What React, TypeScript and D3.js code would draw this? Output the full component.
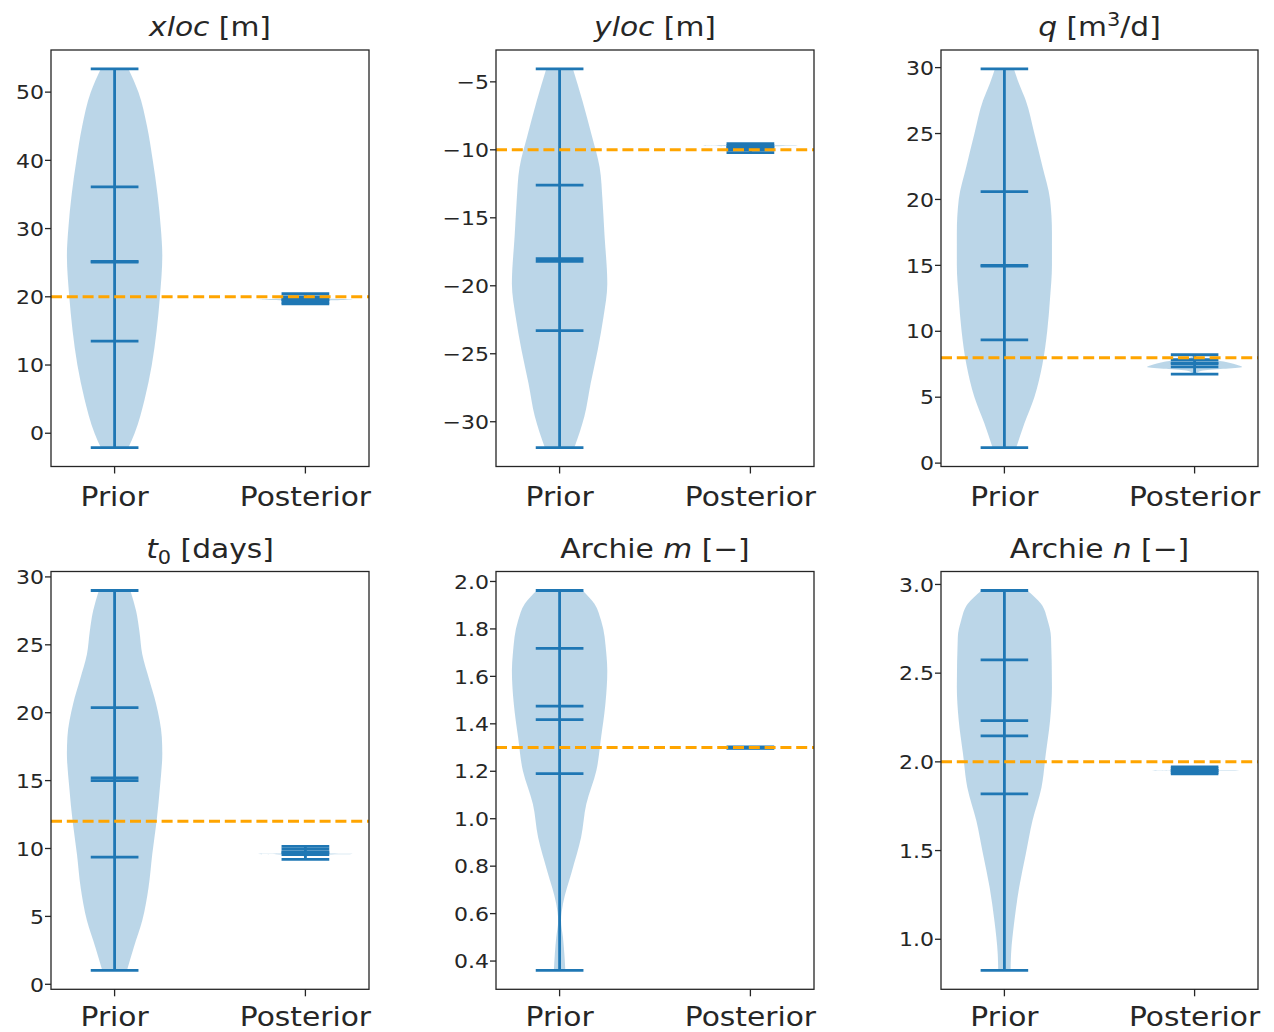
import React from 'react';
import * as d3 from 'd3';

// ---------------- DATA ----------------
const categories = ['Prior', 'Posterior'];
const trueValues = [20, -10, 8, 12, 1.3, 2.0];

const yTickValues = [
  [0, 10, 20, 30, 40, 50],
  [-30, -25, -20, -15, -10, -5],
  [0, 5, 10, 15, 20, 25, 30],
  [0, 5, 10, 15, 20, 25, 30],
  [0.4, 0.6, 0.8, 1.0, 1.2, 1.4, 1.6, 1.8, 2.0],
  [1.0, 1.5, 2.0, 2.5, 3.0],
];
const yTickDecimals = [0, 0, 0, 0, 1, 1];

// Prior summary statistics
const priorMin = [-2.1, -31.9, 1.18, 1.03, 0.361, 0.825];
const priorQ25 = [13.5, -23.3, 9.35, 9.36, 1.19, 1.82];
const priorMedian = [25.1, -18.0, 15.0, 15.0, 1.475, 2.232];
const priorMean = [25.2, -18.2, 14.95, 15.2, 1.418, 2.147];
const priorQ75 = [36.1, -12.6, 20.6, 20.37, 1.718, 2.575];
const priorMax = [53.4, -4.05, 29.9, 29.0, 1.962, 2.966];

// Prior density profiles (value, relative density)
const priorKdeValues = [
  [53.4, 50, 45, 40, 35, 30, 26, 20, 15, 10, 5, 0, -2.1],
  [-4.05, -6.4, -8.9, -11.3, -13.75, -16.2, -19.85, -22.3, -24.7, -27.2, -29.6, -31.9],
  [29.9, 28.75, 27.5, 25, 22.5, 20, 17.5, 15, 12.5, 10, 7.5, 5, 3, 1.18],
  [29.0, 27.5, 26.0, 24.3, 22.5, 20.65, 18.2, 17.0, 14.5, 12.0, 9.6, 7.1, 4.7, 2.7, 1.03],
  [1.962, 1.906, 1.835, 1.695, 1.624, 1.484, 1.343, 1.202, 1.062, 0.921, 0.78, 0.64, 0.57, 0.5, 0.43, 0.361],
  [2.966, 2.891, 2.797, 2.703, 2.42, 2.232, 2.045, 1.856, 1.668, 1.48, 1.292, 1.104, 0.916, 0.825],
];
const priorKdeDensity = [
  [0.29, 0.5, 0.68, 0.8, 0.9, 0.97, 1.0, 0.95, 0.88, 0.78, 0.63, 0.42, 0.29],
  [0.28, 0.48, 0.67, 0.84, 0.9, 0.94, 1.0, 0.92, 0.8, 0.65, 0.52, 0.31],
  [0.2, 0.31, 0.45, 0.63, 0.8, 0.96, 1.0, 1.0, 0.96, 0.9, 0.8, 0.63, 0.42, 0.25],
  [0.33, 0.45, 0.52, 0.58, 0.72, 0.87, 0.99, 1.0, 0.95, 0.88, 0.79, 0.71, 0.58, 0.4, 0.26],
  [0.48, 0.73, 0.87, 0.98, 1.0, 0.96, 0.87, 0.77, 0.56, 0.45, 0.26, 0.07, 0.03, 0.07, 0.1, 0.12],
  [0.48, 0.77, 0.91, 0.98, 1.0, 0.96, 0.87, 0.78, 0.59, 0.45, 0.31, 0.21, 0.14, 0.13],
];

// Posterior summary statistics
const postMin = [18.95, -10.2, 6.75, 9.2, 1.297, 1.932];
const postQ25 = [19.2, -10.0, 7.3, 9.55, 1.299, 1.94];
const postMedian = [19.6, -9.8, 7.6, 9.75, 1.3, 1.952];
const postMean = [19.55, -9.85, 7.55, 9.7, 1.3, 1.95];
const postQ75 = [20.0, -9.7, 7.85, 9.95, 1.301, 1.962];
const postMax = [20.45, -9.55, 8.22, 10.15, 1.303, 1.972];

// Posterior density profiles
const postKdeValues = [
  [20.45, 20.0, 19.8, 19.6, 19.4, 19.2, 18.95],
  [-9.55, -9.65, -9.7, -9.75, -9.9, -10.05, -10.2],
  [8.22, 8.0, 7.8, 7.6, 7.45, 7.3, 7.15, 7.0, 6.75],
  [10.15, 9.8, 9.65, 9.6, 9.55, 9.4, 9.2],
  [1.3005, 1.3, 1.2995],
  [1.972, 1.96, 1.953, 1.95, 1.947, 1.94, 1.932],
];
const postKdeDensity = [
  [0.01, 0.05, 0.25, 1.0, 0.25, 0.05, 0.01],
  [0.02, 0.3, 1.0, 0.3, 0.08, 0.03, 0.01],
  [0.02, 0.1, 0.45, 0.75, 0.9, 1.0, 0.6, 0.15, 0.02],
  [0.01, 0.03, 0.2, 1.0, 0.2, 0.03, 0.01],
  [0.0, 1.0, 0.0],
  [0.01, 0.05, 0.3, 1.0, 0.3, 0.05, 0.01],
];

type Seg = { text: string; italic?: boolean; sup?: boolean; sub?: boolean };
const titles: Seg[][] = [
  [{ text: 'xloc', italic: true }, { text: ' [m]' }],
  [{ text: 'yloc', italic: true }, { text: ' [m]' }],
  [{ text: 'q', italic: true }, { text: ' [m' }, { text: '3', sup: true }, { text: '/d]' }],
  [{ text: 't', italic: true }, { text: '0', sub: true }, { text: ' [days]' }],
  [{ text: 'Archie ' }, { text: 'm', italic: true }, { text: ' [−]' }],
  [{ text: 'Archie ' }, { text: 'n', italic: true }, { text: ' [−]' }],
];

// ---------------- LAYOUT ----------------
const W = 1274;
const H = 1032;
const colsX = [
  [51, 369],
  [496, 814],
  [941, 1258],
];
const rowsY = [
  [50, 466.5],
  [571.5, 989.3],
];
const FONT = "'DejaVu Sans', sans-serif";
const BLUE = '#1f77b4';
const ORANGE = '#ffa500';
const TEXT = '#262626';
const SX = 1.1; // slight horizontal stretch of the text glyphs

function Violin({ pos, xS, yS, values, dens, stats }: any) {
  const pts = values.map((v: number, i: number) => [v, dens[i]] as [number, number]);
  const area = d3
    .area<[number, number]>()
    .y((d) => yS(d[0]))
    .x0((d) => xS(pos - 0.25 * d[1]))
    .x1((d) => xS(pos + 0.25 * d[1]))
    .curve(d3.curveMonotoneY);
  const [mn, q25, med, mean, q75, mx] = stats;
  const xl = xS(pos - 0.125);
  const xr = xS(pos + 0.125);
  const xc = xS(pos);
  return (
    <g>
      <path d={area(pts) || ''} fill={BLUE} fillOpacity={0.3} stroke="none" />
      <line x1={xc} x2={xc} y1={yS(mn)} y2={yS(mx)} stroke={BLUE} strokeWidth={2.8} />
      {[mn, q25, med, mean, q75, mx].map((v: number, i: number) => (
        <line key={i} x1={xl} x2={xr} y1={yS(v)} y2={yS(v)} stroke={BLUE} strokeWidth={2.8} />
      ))}
    </g>
  );
}

function Panel({ idx }: { idx: number }) {
  const col = idx % 3;
  const row = Math.floor(idx / 3);
  const [left, right] = colsX[col];
  const [top, bottom] = rowsY[row];
  const lo = priorMin[idx];
  const hi = priorMax[idx];
  const r = hi - lo;
  const yS = d3.scaleLinear().domain([lo - 0.05 * r, hi + 0.05 * r]).range([bottom, top]);
  const xS = d3.scaleLinear().domain([2 / 3, 7 / 3]).range([left, right]);
  const fmt = d3.format(`.${yTickDecimals[idx]}f`);

  // title with sup/sub
  let cur = 0;
  const tspans = titles[idx].map((s, i) => {
    const target = s.sup ? -10 : s.sub ? 6.5 : 0;
    const dy = target - cur;
    cur = target;
    return (
      <tspan
        key={i}
        dy={dy}
        fontStyle={s.italic ? 'italic' : 'normal'}
        fontSize={s.sup || s.sub ? 19 : 27}
      >
        {s.text}
      </tspan>
    );
  });

  return (
    <g>
      <text
        transform={`translate(${(left + right) / 2},${row === 0 ? 35.5 : 557.5}) scale(${SX},1)`}
        textAnchor="middle"
        fontFamily={FONT}
        fontSize={27}
        fill={TEXT}
      >
        {tspans}
      </text>

      <Violin
        pos={1}
        xS={xS}
        yS={yS}
        values={priorKdeValues[idx]}
        dens={priorKdeDensity[idx]}
        stats={[priorMin[idx], priorQ25[idx], priorMedian[idx], priorMean[idx], priorQ75[idx], priorMax[idx]]}
      />
      <Violin
        pos={2}
        xS={xS}
        yS={yS}
        values={postKdeValues[idx]}
        dens={postKdeDensity[idx]}
        stats={[postMin[idx], postQ25[idx], postMedian[idx], postMean[idx], postQ75[idx], postMax[idx]]}
      />

      <line
        x1={left}
        x2={right}
        y1={yS(trueValues[idx])}
        y2={yS(trueValues[idx])}
        stroke={ORANGE}
        strokeWidth={3}
        strokeDasharray="11,4.8"
      />

      <rect x={left} y={top} width={right - left} height={bottom - top} fill="none" stroke={TEXT} strokeWidth={1.3} />

      {yTickValues[idx].map((t) => (
        <g key={t} transform={`translate(0,${yS(t)})`}>
          <line x1={left - 6} x2={left} stroke={TEXT} strokeWidth={1.3} />
          <text
            transform={`translate(${left - 7},0) scale(${SX},1)`}
            dy="0.36em"
            textAnchor="end"
            fontFamily={FONT}
            fontSize={20}
            fill={TEXT}
          >
            {fmt(t)}
          </text>
        </g>
      ))}

      {categories.map((c, i) => (
        <g key={c} transform={`translate(${xS(i + 1)},${bottom})`}>
          <line y1={0} y2={7} stroke={TEXT} strokeWidth={1.3} />
          <text
            transform={`translate(0,${row === 0 ? 39 : 36.5}) scale(${SX},1)`}
            textAnchor="middle"
            fontFamily={FONT}
            fontSize={27}
            fill={TEXT}
          >
            {c}
          </text>
        </g>
      ))}
    </g>
  );
}

export default function App() {
  return (
    <svg
      width={W}
      height={H}
      viewBox={`0 0 ${W} ${H}`}
      style={{ position: 'absolute', left: 0, top: 0, background: '#fff' }}
    >
      <rect width={W} height={H} fill="#fff" />
      {[0, 1, 2, 3, 4, 5].map((i) => (
        <Panel key={i} idx={i} />
      ))}
    </svg>
  );
}
